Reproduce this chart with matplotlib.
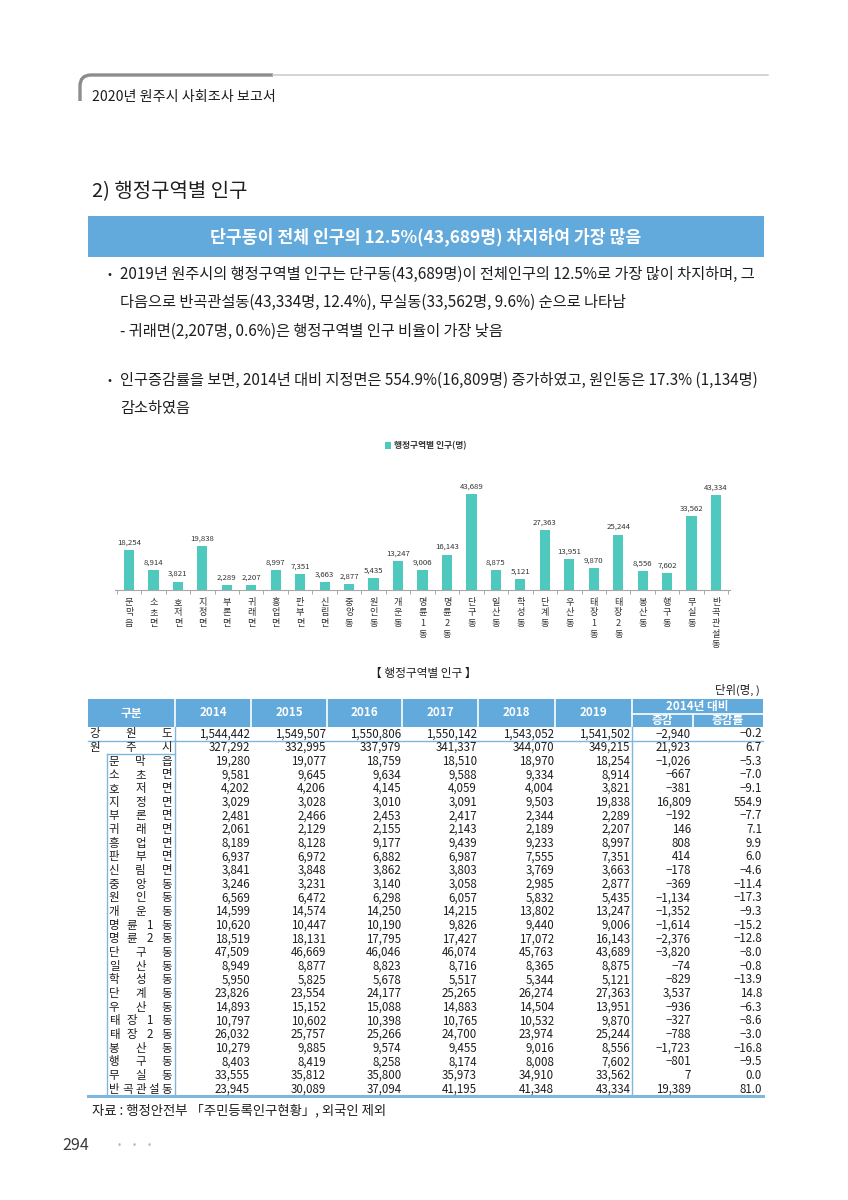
import numpy as np
import matplotlib
matplotlib.use('Agg')
import matplotlib.pyplot as plt
from matplotlib.path import Path
from matplotlib.patches import PathPatch, Rectangle

plt.rcParams['font.family'] = ['Noto Sans CJK KR', 'DejaVu Sans']

# ---------------------------------------------------------------------
# Data
# ---------------------------------------------------------------------
areas = ['강원도', '원주시',
         '문막읍', '소초면', '호저면', '지정면', '부론면', '귀래면', '흥업면',
         '판부면', '신림면', '중앙동', '원인동', '개운동', '명륜1동', '명륜2동',
         '단구동', '일산동', '학성동', '단계동', '우산동', '태장1동', '태장2동',
         '봉산동', '행구동', '무실동', '반곡관설동']
years = ['2014', '2015', '2016', '2017', '2018', '2019']

pop2014 = [1544442, 327292, 19280, 9581, 4202, 3029, 2481, 2061, 8189, 6937,
           3841, 3246, 6569, 14599, 10620, 18519, 47509, 8949, 5950, 23826,
           14893, 10797, 26032, 10279, 8403, 33555, 23945]
pop2015 = [1549507, 332995, 19077, 9645, 4206, 3028, 2466, 2129, 8128, 6972,
           3848, 3231, 6472, 14574, 10447, 18131, 46669, 8877, 5825, 23554,
           15152, 10602, 25757, 9885, 8419, 35812, 30089]
pop2016 = [1550806, 337979, 18759, 9634, 4145, 3010, 2453, 2155, 9177, 6882,
           3862, 3140, 6298, 14250, 10190, 17795, 46046, 8823, 5678, 24177,
           15088, 10398, 25266, 9574, 8258, 35800, 37094]
pop2017 = [1550142, 341337, 18510, 9588, 4059, 3091, 2417, 2143, 9439, 6987,
           3803, 3058, 6057, 14215, 9826, 17427, 46074, 8716, 5517, 25265,
           14883, 10765, 24700, 9455, 8174, 35973, 41195]
pop2018 = [1543052, 344070, 18970, 9334, 4004, 9503, 2344, 2189, 9233, 7555,
           3769, 2985, 5832, 13802, 9440, 17072, 45763, 8365, 5344, 26274,
           14504, 10532, 23974, 9016, 8008, 34910, 41348]
pop2019 = [1541502, 349215, 18254, 8914, 3821, 19838, 2289, 2207, 8997, 7351,
           3663, 2877, 5435, 13247, 9006, 16143, 43689, 8875, 5121, 27363,
           13951, 9870, 25244, 8556, 7602, 33562, 43334]
change = [-2940, 21923, -1026, -667, -381, 16809, -192, 146, 808, 414,
          -178, -369, -1134, -1352, -1614, -2376, -3820, -74, -829, 3537,
          -936, -327, -788, -1723, -801, 7, 19389]
change_rate = [-0.2, 6.7, -5.3, -7.0, -9.1, 554.9, -7.7, 7.1, 9.9, 6.0,
               -4.6, -11.4, -17.3, -9.3, -15.2, -12.8, -8.0, -0.8, -13.9, 14.8,
               -6.3, -8.6, -3.0, -16.8, -9.5, 0.0, 81.0]

# the bar chart shows the 2019 values of the districts only
districts = areas[2:]
dist2019 = pop2019[2:]

TEAL = '#4fc8bd'
BLUE = '#62a9dc'
LINE = '#7db7e0'
INK = '#1e1e1e'

# ---------------------------------------------------------------------
# Page (pixel coordinates, y downwards)
# ---------------------------------------------------------------------
fig = plt.figure(figsize=(8.48, 12.0), dpi=100)
bg = fig.add_axes([0, 0, 1, 1])
bg.set_xlim(0, 848)
bg.set_ylim(1200, 0)
bg.axis('off')
renderer = fig.canvas.get_renderer()


def fit_text(x, y, s, width, size=10, **kw):
    t = bg.text(x, y, s, fontsize=size, **kw)
    w = t.get_window_extent(renderer).width
    t.set_fontsize(size * width / w)
    return t


# running header
hp = Path([(80, 101), (80, 86), (80, 75), (91, 75), (273, 75)],
          [Path.MOVETO, Path.LINETO, Path.CURVE3, Path.CURVE3, Path.LINETO])
bg.add_patch(PathPatch(hp, fill=False, edgecolor='#8c8c8c', lw=2.4,
                       capstyle='butt'))
bg.plot([273, 768], [75, 75], color='#c9c9c9', lw=1.1)
fit_text(92, 97, '2020년 원주시 사회조사 보고서', 183, color=INK, va='center')

# section title and banner
fit_text(92, 192, '2) 행정구역별 인구', 155, color=INK, va='center',
         fontweight='medium')
bg.add_patch(Rectangle((88, 216), 676, 41, facecolor=BLUE, edgecolor='none'))
t = fit_text(426, 237, '단구동이 전체 인구의 12.5%(43,689명) 차지하여 가장 많음',
             430, color='white', ha='center', va='center', fontweight='bold')

# bullet text
t1 = fit_text(120, 274, '2019년 원주시의 행정구역별 인구는 단구동(43,689명)이 '
              '전체인구의 12.5%로 가장 많이 차지하며, 그', 637,
              color=INK, va='center')
fs = t1.get_fontsize()
bg.text(108, 274, '•', fontsize=fs * 0.8, color=INK, va='center')
bg.text(120, 302, '다음으로 반곡관설동(43,334명, 12.4%), 무실동(33,562명, 9.6%) '
        '순으로 나타남', fontsize=fs, color=INK, va='center')
bg.text(120, 331, '- 귀래면(2,207명, 0.6%)은 행정구역별 인구 비율이 가장 낮음',
        fontsize=fs, color=INK, va='center')
bg.text(108, 380, '•', fontsize=fs * 0.8, color=INK, va='center')
fit_text(120, 380, '인구증감률을 보면, 2014년 대비 지정면은 554.9%(16,809명) '
         '증가하였고, 원인동은 17.3% (1,134명)', 637, color=INK, va='center')
bg.text(120, 408, '감소하였음', fontsize=fs, color=INK, va='center')

# ---------------------------------------------------------------------
# Bar chart
# ---------------------------------------------------------------------
ax = fig.add_axes([115.5 / 848, 1 - 590 / 1200, 614 / 848, 120 / 1200])
ax.patch.set_alpha(0)
x = np.arange(len(districts))
bars = ax.bar(x, dist2019, width=0.42, color=TEAL, zorder=2)
ax.set_xlim(-0.55, len(districts) - 0.45)
ax.set_ylim(0, 54600)
for s in ['top', 'right', 'left']:
    ax.spines[s].set_visible(False)
ax.spines['bottom'].set_color('#a8a8a8')
ax.spines['bottom'].set_linewidth(0.8)
ax.set_yticks([])
ax.set_xticks([])
ax.set_xticks(np.arange(len(districts) + 1) - 0.5, minor=True)
ax.tick_params(axis='x', which='minor', length=3, color='#a8a8a8', width=0.7)

for xi, v in zip(x, dist2019):
    ax.annotate(f'{v:,}', (xi, v), xytext=(0, 2.5), textcoords='offset points',
                ha='center', va='bottom', fontsize=5.6, color='#333333')

for xi, name in zip(x, districts):
    for k, ch in enumerate(name):
        ax.annotate(ch, (xi, 0), xycoords=('data', 'axes fraction'),
                    xytext=(0, -8.8 - k * 7.7), textcoords='offset points',
                    ha='center', va='center', fontsize=6.6, color='#333333')

ax.legend(handles=[bars], labels=['행정구역별 인구(명)'], loc='center',
          bbox_to_anchor=(0.505, 1.2), frameon=False,
          prop={'size': 6.3, 'weight': 'bold'}, handlelength=0.75,
          handleheight=0.75, handletextpad=0.3, labelcolor='#333333')

# ---------------------------------------------------------------------
# Table
# ---------------------------------------------------------------------
fit_text(423, 673, '【 행정구역별 인구 】', 107, color=INK, ha='center',
         va='center')
bg.text(760, 690, '단위(명, )', fontsize=8.2, color=INK, ha='right', va='center')

bounds = [88, 175, 251, 327, 402, 478, 555, 632, 693, 763]
head_top, head_bot, head_mid = 699, 727, 714
tab_bot = 1096
bg.add_patch(Rectangle((bounds[0], head_top), bounds[-1] - bounds[0],
                       head_bot - head_top, facecolor=BLUE, edgecolor='none'))
for b in bounds[1:8]:
    bg.plot([b, b], [head_top, head_bot], color='white', lw=1.2)
bg.plot([632, 763], [head_mid, head_mid], color='white', lw=1.2)
bg.plot([693, 693], [head_mid, head_bot], color='white', lw=1.2)

hkw = dict(color='white', fontweight='bold', fontsize=8.4, ha='center',
           va='center')
bg.text((bounds[0] + bounds[1]) / 2, 713, '구분', **hkw)
for j, yr in enumerate(years):
    bg.text((bounds[j + 1] + bounds[j + 2]) / 2, 713, yr, **hkw)
bg.text((632 + 763) / 2, 706.5, '2014년 대비', **hkw)
bg.text((632 + 693) / 2, 720.5, '증감', **hkw)
bg.text((693 + 763) / 2, 720.5, '증감률', **hkw)

rh = (tab_bot - head_bot) / len(areas)
cols = [pop2014, pop2015, pop2016, pop2017, pop2018, pop2019]
rights = [250, 326, 401.5, 477, 554, 630.5]
tkw = dict(fontsize=8.3, color=INK, va='center')
for i, name in enumerate(areas):
    yc = head_bot + rh * (i + 0.5)
    x0 = 95 if i < 2 else 114
    xs = np.linspace(x0, 167, len(name))
    for xc, ch in zip(xs, name):
        bg.text(xc, yc, ch, ha='center', **tkw)
    for col, r in zip(cols, rights):
        bg.text(r, yc, f'{col[i]:,}', ha='right', **tkw)
    bg.text(691, yc, f'{change[i]:,}'.replace('-', '−'), ha='right', **tkw)
    bg.text(762, yc, f'{change_rate[i]:.1f}'.replace('-', '−'), ha='right',
            **tkw)

y1 = head_bot + rh
y2 = head_bot + 2 * rh
bg.plot([88, 763], [y1, y1], color=LINE, lw=1.0)
bg.plot([107, 175], [y2, y2], color=LINE, lw=1.0)
bg.plot([107, 107], [y2, tab_bot], color=LINE, lw=1.0)
bg.plot([175, 175], [head_bot, tab_bot], color=LINE, lw=1.0)
bg.plot([632, 632], [head_bot, tab_bot], color=LINE, lw=1.0)
bg.plot([88, 763], [tab_bot, tab_bot], color=LINE, lw=2.2)

fit_text(92, 1110, '자료 : 행정안전부 「주민등록인구현황」, 외국인 제외', 294,
         color=INK, va='center')

# page number
bg.text(62, 1145, '294', fontsize=11.5, color='#3a3a3a', va='center')
for dx in [119, 134, 149]:
    bg.text(dx, 1145, '•', fontsize=7, color='#b5b5b5', ha='center',
            va='center')

fig.savefig('out.png', dpi=100)
